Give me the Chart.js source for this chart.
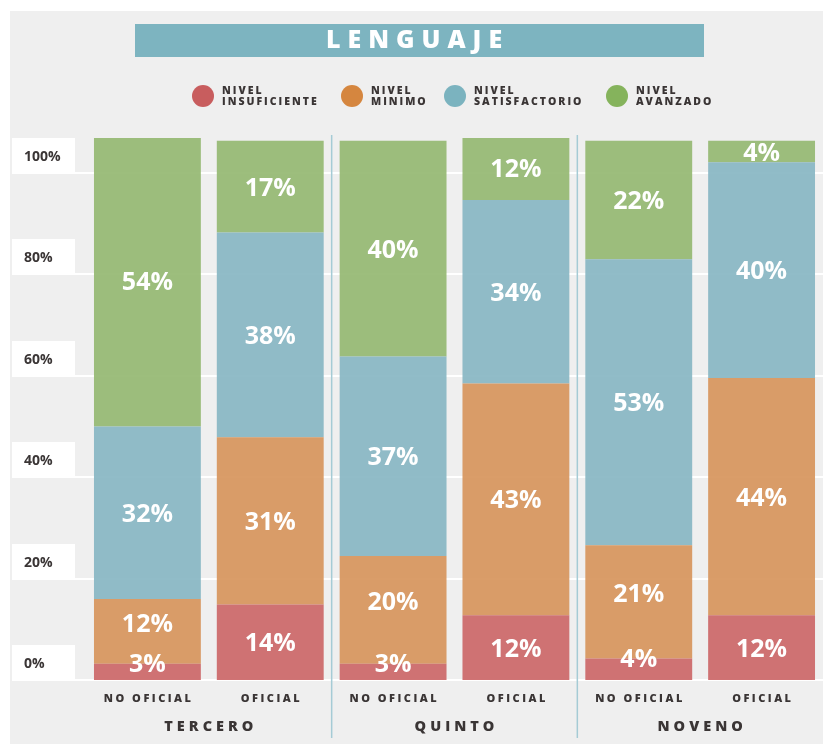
<!DOCTYPE html>
<html>
<head>
<meta charset="utf-8">
<script src="https://cdn.jsdelivr.net/npm/chart.js@4"></script>
<style>
  body{margin:0;background:#fff;}
  #wrap{width:823px;height:744px;position:relative;}
</style>
</head>
<body>
<div id="wrap"><canvas id="myChart" width="823" height="744"></canvas></div>
<script>
var categories = ["NO OFICIAL","OFICIAL","NO OFICIAL","OFICIAL","NO OFICIAL","OFICIAL"];
var groups = ["TERCERO","QUINTO","NOVENO"];
var insuficiente = [3,14,3,12,4,12];
var minimo = [12,31,20,43,21,44];
var satisfactorio = [32,38,37,34,53,40];
var avanzado = [54,17,40,12,22,4];
var yTicks = [0,20,40,60,80,100];
var levelNames = [["NIVEL","INSUFICIENTE"],["NIVEL","MINIMO"],["NIVEL","SATISFACTORIO"],["NIVEL","AVANZADO"]];

var barColors = ["rgba(203,100,101,0.9)","rgba(214,146,89,0.9)","rgba(133,181,194,0.9)","rgba(146,183,111,0.9)"];
var legendColors = ["#c85d5e","#d5863f","#7bb3bf","#85b35c"];
var font = "'Open Sans', 'Noto Sans', sans-serif";

function spacedText(ctx, txt, x, y, spacing){
  // centre text that has letter spacing (the trailing space is removed)
  ctx.letterSpacing = spacing + "px";
  var w = ctx.measureText(txt).width - spacing;
  ctx.textAlign = "left";
  ctx.fillText(txt, x - w/2, y);
  ctx.letterSpacing = "0px";
}

var decor = {
  id: "decor",
  beforeDraw: function(chart){
    var ctx = chart.ctx;
    ctx.save();
    ctx.fillStyle = "#fff";
    ctx.fillRect(0,0,chart.width,chart.height);
    ctx.fillStyle = "#efefef";
    ctx.fillRect(10,11,chart.width-10,chart.height-11);

    // title
    ctx.fillStyle = "#7db4c0";
    ctx.fillRect(135,24,569,33);
    ctx.fillStyle = "#fff";
    ctx.font = "800 25px " + font;
    ctx.textBaseline = "middle";
    spacedText(ctx, "LENGUAJE", 414, 41, 7);

    // legend
    var lx = [203,352,455,617];
    for(var i=0;i<4;i++){
      ctx.fillStyle = legendColors[i];
      ctx.beginPath();
      ctx.arc(lx[i],96,11,0,Math.PI*2);
      ctx.fill();
      ctx.fillStyle = "#3a3535";
      ctx.font = "800 10.5px " + font;
      ctx.letterSpacing = "2px";
      ctx.textAlign = "left";
      ctx.fillText(levelNames[i][0], lx[i]+19, 91);
      ctx.fillText(levelNames[i][1], lx[i]+19, 102);
      ctx.letterSpacing = "0px";
    }

    // y ticks boxes + gridlines
    var y2 = chart.scales.y2;
    for(var k=0;k<yTicks.length;k++){
      var py = Math.round(y2.getPixelForValue(yTicks[k]));
      ctx.fillStyle = "#fff";
      ctx.fillRect(12,py-35,63,35);
      ctx.fillRect(12,py-1,chart.width-12,2);
      ctx.fillStyle = "#3a3535";
      ctx.font = "bold 14px " + font;
      ctx.textAlign = "left";
      ctx.fillText(yTicks[k]+"%", 24, py-16);
    }

    // group separators
    var xs = chart.scales.x;
    ctx.strokeStyle = "#a5cbd5";
    ctx.lineWidth = 1.5;
    for(var g=1;g<groups.length;g++){
      var sx = (xs.getPixelForValue(2*g-1)+xs.getPixelForValue(2*g))/2;
      ctx.beginPath();
      ctx.moveTo(sx,135);
      ctx.lineTo(sx,738);
      ctx.stroke();
    }

    // x labels
    ctx.fillStyle = "#3a3535";
    ctx.font = "800 11px " + font;
    for(var c=0;c<categories.length;c++){
      spacedText(ctx, categories[c], xs.getPixelForValue(c), 699, 2.5);
    }
    ctx.font = "800 14.5px " + font;
    for(var g2=0;g2<groups.length;g2++){
      var gx = (xs.getPixelForValue(2*g2)+xs.getPixelForValue(2*g2+1))/2;
      spacedText(ctx, groups[g2], gx, 727, 4);
    }
    ctx.restore();
  },
  afterDatasetsDraw: function(chart){
    var ctx = chart.ctx;
    ctx.save();
    ctx.fillStyle = "#fff";
    ctx.font = "bold 25px " + font;
    ctx.textAlign = "center";
    ctx.textBaseline = "middle";
    chart.data.datasets.forEach(function(ds,i){
      var meta = chart.getDatasetMeta(i);
      meta.data.forEach(function(el,j){
        var v = ds.data[j];
        var y = (el.y + el.base)/2;
        if(i==0 && v<6) y = el.y - 1;
        if(i==1 && chart.data.datasets[0].data[j]<6) y -= 9;
        ctx.fillText(v+"%", el.x, y+2);
      });
    });
    ctx.restore();
  }
};

var sets = [insuficiente,minimo,satisfactorio,avanzado];
var datasets = [];
for(var i=0;i<sets.length;i++){
  datasets.push({
    label: levelNames[i].join(" "),
    data: sets[i],
    backgroundColor: barColors[i],
    borderWidth: 0,
    barPercentage: 0.87,
    categoryPercentage: 1
  });
}

const myChart = new Chart("myChart", {
  type: "bar",
  data: {labels: categories, datasets: datasets},
  options: {
    responsive: false,
    animation: false,
    layout: {padding: {left: 86, right: 0, top: 138, bottom: 64}},
    plugins: {legend: {display: false}, tooltip: {enabled: false}},
    scales: {
      x: {stacked: true, display: false},
      y: {stacked: true, display: false, min: 0, max: 100.5},
      y2: {display: false, min: 0, max: 106.9, position: "left"}
    }
  },
  plugins: [decor]
});
</script>
</body>
</html>
